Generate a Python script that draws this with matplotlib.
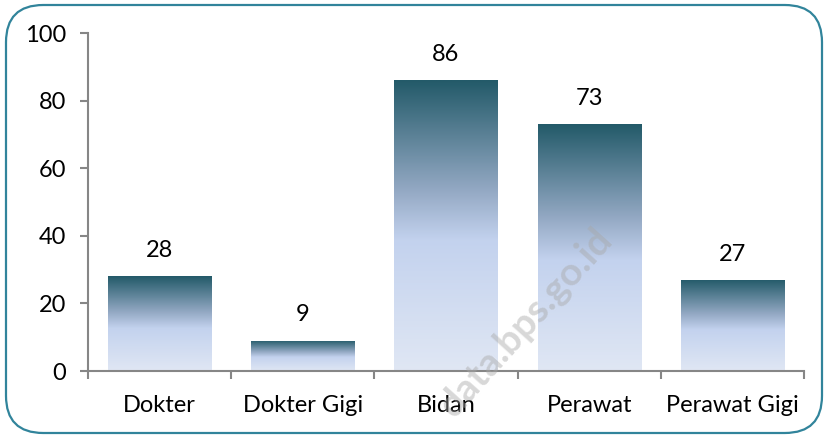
import matplotlib.pyplot as plt
import numpy as np
from matplotlib.colors import LinearSegmentedColormap
from matplotlib.patches import FancyBboxPatch

categories = ["Dokter", "Dokter Gigi", "Bidan", "Perawat", "Perawat Gigi"]
values = [28, 9, 86, 73, 27]
yticks = [0, 20, 40, 60, 80, 100]

plt.rcParams['font.family'] = ['Lato', 'DejaVu Sans']

fig = plt.figure(figsize=(8.28, 4.38), dpi=100)
ax = fig.add_axes([88 / 828, (438 - 371) / 438, 716 / 828, 338 / 438])

# rounded frame around the whole chart
frame = FancyBboxPatch((6 / 828, 5 / 438), 816 / 828, 428 / 438,
                       boxstyle="round,pad=0,rounding_size=0.045",
                       transform=fig.transFigure, fill=False,
                       edgecolor="#31849b", linewidth=1.6,
                       mutation_aspect=828 / 438)
fig.patches.append(frame)

cmap = LinearSegmentedColormap.from_list(
    "grad", [(0.0, "#e0e7f4"), (0.45, "#c3d2ee"), (0.62, "#94a9c4"), (1.0, "#235a69")])
grad = np.linspace(0, 1, 256).reshape(-1, 1)

x = np.arange(len(categories))
bars = ax.bar(x, values, width=0.72, color="none", edgecolor="none")
for b, v in zip(bars, values):
    im = ax.imshow(grad, cmap=cmap, aspect="auto", origin="lower",
                   extent=[b.get_x(), b.get_x() + b.get_width(), 0, v], zorder=2)
    im.set_clip_path(b)
    ax.text(b.get_x() + b.get_width() / 2, v + 4.5, str(v), ha="center",
            va="bottom", fontsize=17)

ax.set_xlim(-0.5, len(categories) - 0.5)
ax.set_ylim(0, 100)
ax.set_yticks(yticks)
ax.set_xticks(np.arange(len(categories) + 1) - 0.5, minor=False)
ax.set_xticklabels([])
ax.set_xticks(x, minor=True)
ax.set_xticklabels(categories, minor=True)
ax.tick_params(axis="x", which="minor", length=0, pad=17, labelsize=17)
ax.tick_params(axis="x", which="major", length=6, color="#868686", width=1.5)
ax.tick_params(axis="y", length=6, color="#868686", width=1.5, labelsize=17, pad=10)
for side in ["top", "right"]:
    ax.spines[side].set_visible(False)
for side in ["left", "bottom"]:
    ax.spines[side].set_color("#868686")
    ax.spines[side].set_linewidth(1.5)

# faint watermark
fig.text(0.635, 0.265, "data.bps.go.id", rotation=48, fontsize=28, fontweight="bold",
         color="#a8a8a8", alpha=0.45, ha="center", va="center")

fig.savefig("out.png", dpi=100)
